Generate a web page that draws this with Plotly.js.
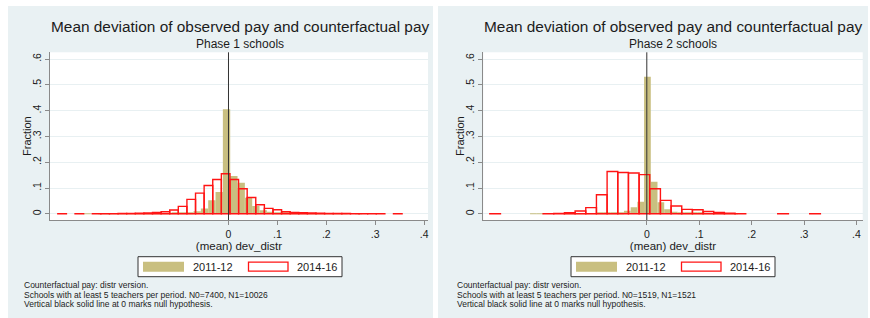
<!DOCTYPE html>
<html><head><meta charset="utf-8">
<script src="https://cdn.plot.ly/plotly-3.0.1.min.js"></script>
<style>html,body{margin:0;padding:0;background:#fff;} #chart{width:870px;height:318px;}</style>
</head><body><div id="chart"></div>
<script>
// ---------- data ----------
const seriesNames = ['2011-12', '2014-16'];
const panelTitle = 'Mean deviation of observed pay and counterfactual pay';
const panelSubtitles = ['Phase 1 schools', 'Phase 2 schools'];
const xAxisTitle = '(mean) dev_distr';
const yAxisTitle = 'Fraction';
const yTickVals = [0, 0.1, 0.2, 0.3, 0.4, 0.5, 0.6];
const yTickText = ['0', '.1', '.2', '.3', '.4', '.5', '.6'];
const xTickVals = [0, 0.1, 0.2, 0.3, 0.4];
const xTickText = ['0', '.1', '.2', '.3', '.4'];
const footnotesP1 = ['Counterfactual pay: distr version.',
  'Schools with at least 5 teachers per period. N0=7400, N1=10026',
  'Vertical black solid line at 0 marks null hypothesis.'];
const footnotesP2 = ['Counterfactual pay: distr version.',
  'Schools with at least 5 teachers per period. N0=1519, N1=1521',
  'Vertical black solid line at 0 marks null hypothesis.'];

// Phase 1, 2011-12 (38 bins)
const p1EarlyBinStart = -0.2965, p1EarlyBinWidth = 0.015;
const p1EarlyFrac = [0.0005, null, 0.0005, 0.0005, 0.0005, 0.0005, 0.0005, 0.0005, 0.0005, 0.001,
  0.001, 0.001, 0.002, 0.003, 0.005, 0.010, 0.021, 0.053, 0.085, 0.405,
  0.147, 0.120, 0.062, 0.030, 0.014, 0.008, 0.005, 0.003, 0.002, 0.002,
  0.001, 0.001, 0.001, 0.0005, 0.0005, 0.0005, null, 0.0005];
// Phase 1, 2014-16 (40 bins)
const p1LateBinStart = -0.349, p1LateBinWidth = 0.0176;
const p1LateFrac = [0.0006, null, 0.0006, null, 0.0006, 0.0006, 0.0008, 0.001, 0.0015, 0.002,
  0.003, 0.005, 0.008, 0.015, 0.029, 0.056, 0.080, 0.110, 0.133, 0.155,
  0.133, 0.097, 0.063, 0.035, 0.021, 0.016, 0.008, 0.005, 0.004, 0.003,
  0.002, 0.0015, 0.001, 0.001, 0.0008, 0.0006, 0.0006, 0.0006, null, 0.0006];
// Phase 2, 2011-12 (31 bins)
const p2EarlyBinStart = -0.2228, p2EarlyBinWidth = 0.0128;
const p2EarlyFrac = [0.001, 0.001, null, null, null, 0.0005, 0.0005, 0.001, 0.001, 0.001,
  0.002, 0.002, 0.003, 0.005, 0.012, 0.025, 0.047, 0.531, 0.124, 0.045,
  0.018, 0.008, 0.005, 0.003, 0.002, 0.002, 0.001, 0.001, 0.001, 0.0005, 0.0005];
// Phase 2, 2014-16 (31 bins)
const p2LateBinStart = -0.2996, p2LateBinWidth = 0.02035;
const p2LateFrac = [0.0008, null, null, null, null, 0.0008, 0.001, 0.004, 0.011, 0.024,
  0.074, 0.164, 0.160, 0.158, 0.152, 0.097, 0.052, 0.030, 0.017, 0.016,
  0.009, 0.005, 0.002, 0.0008, null, null, null, 0.0008, null, null, 0.0008];

// ---------- styles ----------
const FONT = 'Liberation Sans, Arial, Helvetica, sans-serif';
const OLIVE = 'rgb(201,191,128)';
const RED = 'rgb(255,20,20)';
const PANEL_BG = '#e9f1f3';
const GRID = '#e8f0f2';
const AXIS = '#8a8a8a';
const TEXT = '#1c1c1c';
const W = 870, H = 318;
const px = v => v / W;          // pixel x -> paper
const py = v => (H - v) / H;    // pixel y -> paper

function centers(start, width, n) {
  const c = [];
  for (let k = 0; k < n; k++) c.push(start + (k + 0.5) * width);
  return c;
}

function earlyTrace(start, width, frac, xa, ya) {
  return {type: 'bar', x: centers(start, width, frac.length), y: frac, width: width,
    xaxis: xa, yaxis: ya, name: seriesNames[0], showlegend: false,
    marker: {color: OLIVE, line: {width: 0}}, hoverinfo: 'skip'};
}
function lateTrace(start, width, frac, xa, ya) {
  return {type: 'bar', x: centers(start, width, frac.length), y: frac, width: width,
    xaxis: xa, yaxis: ya, name: seriesNames[1], showlegend: false,
    marker: {color: 'rgba(255,255,255,0)', line: {color: RED, width: 1.4}}, hoverinfo: 'skip'};
}

const data = [
  earlyTrace(p1EarlyBinStart, p1EarlyBinWidth, p1EarlyFrac, 'x', 'y'),
  lateTrace(p1LateBinStart, p1LateBinWidth, p1LateFrac, 'x', 'y'),
  earlyTrace(p2EarlyBinStart, p2EarlyBinWidth, p2EarlyFrac, 'x2', 'y2'),
  lateTrace(p2LateBinStart, p2LateBinWidth, p2LateFrac, 'x2', 'y2')
];

const yDomain = [py(220), py(52.3)];
function xAxis(domain, range, anchor) {
  return {domain: domain, range: range, anchor: anchor, tickmode: 'array',
    tickvals: xTickVals, ticktext: xTickText, ticks: 'outside', ticklen: 4, tickcolor: AXIS,
    showline: true, linecolor: AXIS, linewidth: 1, showgrid: false, zeroline: false,
    tickfont: {size: 10.5, color: TEXT},
    title: {text: xAxisTitle, font: {size: 11.5, color: TEXT}, standoff: 2}};
}
function yAxis(anchor) {
  return {domain: yDomain, range: [-0.024, 0.626], anchor: anchor, tickmode: 'array',
    tickvals: yTickVals, ticktext: yTickText, ticks: 'outside', ticklen: 4, tickcolor: AXIS,
    tickangle: -90, showline: true, linecolor: AXIS, linewidth: 1,
    showgrid: true, gridcolor: GRID, gridwidth: 1, zeroline: false,
    tickfont: {size: 10.5, color: TEXT}};
}

const annotations = [];
const shapes = [
  // white strips around the two panels
  {type: 'rect', xref: 'paper', yref: 'paper', x0: 0, x1: 1, y0: py(6), y1: 1, fillcolor: '#fff', line: {width: 0}, layer: 'below'},
  {type: 'rect', xref: 'paper', yref: 'paper', x0: 0, x1: px(8), y0: 0, y1: 1, fillcolor: '#fff', line: {width: 0}, layer: 'below'},
  {type: 'rect', xref: 'paper', yref: 'paper', x0: px(433), x1: px(438), y0: 0, y1: 1, fillcolor: '#fff', line: {width: 0}, layer: 'below'},
  {type: 'rect', xref: 'paper', yref: 'paper', x0: px(868), x1: 1, y0: 0, y1: 1, fillcolor: '#fff', line: {width: 0}, layer: 'below'},
  // null-hypothesis lines at 0
  {type: 'line', xref: 'x', yref: 'y domain', x0: 0, x1: 0, y0: 0, y1: 1, line: {color: '#333', width: 1}},
  {type: 'line', xref: 'x2', yref: 'y2 domain', x0: 0, x1: 0, y0: 0, y1: 1, line: {color: '#333', width: 1}}
];

// per-panel texts and legend (panel offset in px)
[[0, footnotesP1, 0], [433, footnotesP2, 1]].forEach(([dx, notes, i]) => {
  const xc = 240 + dx;
  annotations.push({xref: 'paper', yref: 'paper', x: px(xc), y: py(27), xanchor: 'center', yanchor: 'middle',
    text: panelTitle, showarrow: false, font: {size: 15.4, color: TEXT}});
  annotations.push({xref: 'paper', yref: 'paper', x: px(xc), y: py(44), xanchor: 'center', yanchor: 'middle',
    text: panelSubtitles[i], showarrow: false, font: {size: 12, color: TEXT}});
  annotations.push({xref: 'paper', yref: 'paper', x: px(27 + dx), y: py(136), xanchor: 'center', yanchor: 'middle',
    text: yAxisTitle, textangle: -90, showarrow: false, font: {size: 11, color: TEXT}});
  const footYs = [285, 294.5, 304];
  notes.forEach((t, j) => annotations.push({xref: 'paper', yref: 'paper', x: px(21.5 + dx), y: py(footYs[j]),
    xanchor: 'left', yanchor: 'middle', text: t, showarrow: false, font: {size: 8.5, color: TEXT}}));
  // legend box
  shapes.push({type: 'rect', xref: 'paper', yref: 'paper', x0: px(138 + dx), x1: px(342 + dx), y0: py(276.7), y1: py(256.7),
    fillcolor: '#fff', line: {color: '#333', width: 1}});
  shapes.push({type: 'rect', xref: 'paper', yref: 'paper', x0: px(143 + dx), x1: px(184 + dx), y0: py(271.7), y1: py(261.7),
    fillcolor: OLIVE, line: {width: 0}});
  shapes.push({type: 'rect', xref: 'paper', yref: 'paper', x0: px(248.5 + dx), x1: px(288 + dx), y0: py(271.2), y1: py(262.2),
    fillcolor: '#fff', line: {color: RED, width: 1.3}});
  annotations.push({xref: 'paper', yref: 'paper', x: px(190.5 + dx), y: py(266.7), xanchor: 'left', yanchor: 'middle',
    text: seriesNames[0], showarrow: false, font: {size: 11, color: TEXT}});
  annotations.push({xref: 'paper', yref: 'paper', x: px(295 + dx), y: py(266.7), xanchor: 'left', yanchor: 'middle',
    text: seriesNames[1], showarrow: false, font: {size: 11, color: TEXT}});
});

const layout = {
  width: W, height: H, margin: {l: 0, r: 0, t: 0, b: 0},
  paper_bgcolor: PANEL_BG, plot_bgcolor: '#fff',
  font: {family: FONT, color: TEXT},
  barmode: 'overlay', showlegend: false,
  xaxis: xAxis([px(50), px(428)], [-0.365, 0.408], 'y'),
  yaxis: yAxis('x'),
  xaxis2: xAxis([px(483.3), px(862.7)], [-0.312, 0.412], 'y2'),
  yaxis2: yAxis('x2'),
  annotations: annotations,
  shapes: shapes
};

Plotly.newPlot('chart', data, layout, {displayModeBar: false, responsive: false});
</script>
</body></html>
